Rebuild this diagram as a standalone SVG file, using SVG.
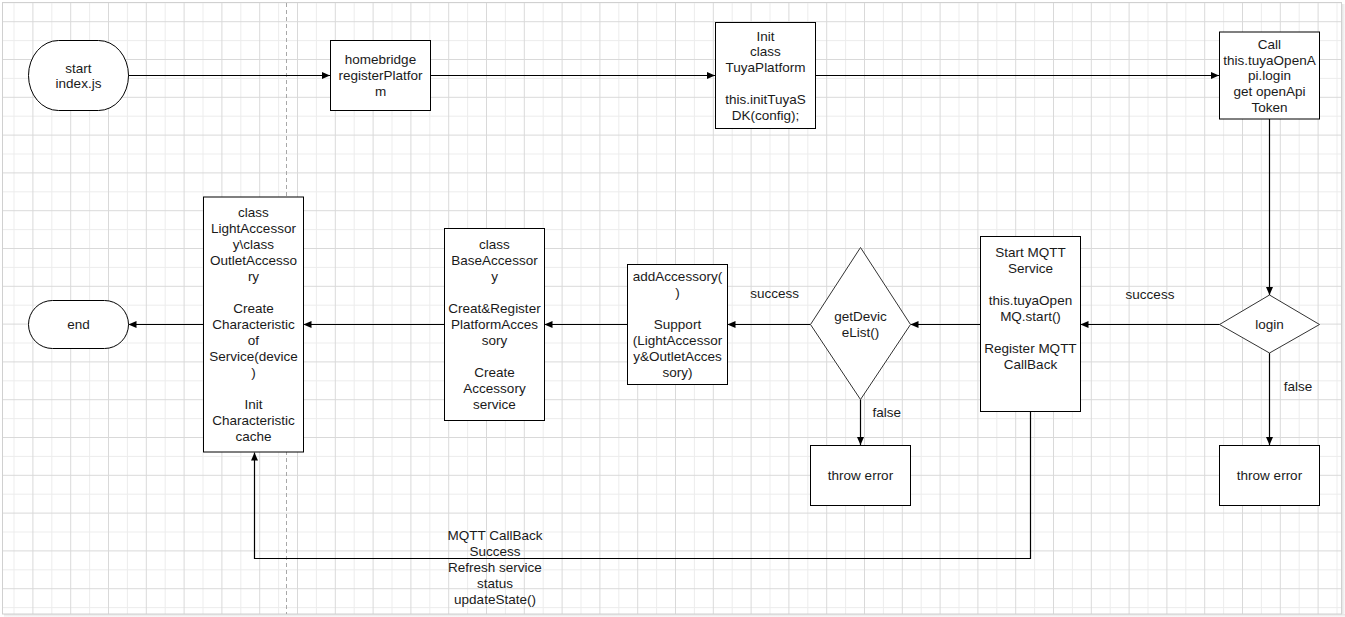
<svg xmlns="http://www.w3.org/2000/svg" width="1345" height="617" viewBox="0 0 1345 617">
<style>
text{font-family:"Liberation Sans",Arial,sans-serif;font-size:13.5px;fill:#1a1a1a;text-anchor:middle}
.box{fill:#fff;stroke:#000;stroke-width:1}
.dia{fill:#fff;stroke:#333;stroke-width:1}
.conn{fill:none;stroke:#000;stroke-width:1.2}
.arr{marker-end:url(#ah)}
</style>
<defs>
<marker id="ah" markerUnits="userSpaceOnUse" markerWidth="8" markerHeight="8" refX="8" refY="3.5" orient="auto">
<path d="M0,0 L8,3.5 L0,7 z" fill="#000"/>
</marker>
<pattern id="grid" patternUnits="userSpaceOnUse" x="4.55" y="12.25" width="37.8" height="37.8">
<path d="M9.45,0 V37.8 M0,28.35 H37.8" stroke="#ececec" stroke-width="1" fill="none"/>
<path d="M28.35,0 V37.8 M0,9.45 H37.8" stroke="#d9d9d9" stroke-width="1" fill="none"/>
</pattern>
<linearGradient id="shr" x1="0" x2="1" y1="0" y2="0"><stop offset="0" stop-color="#e4e4e4"/><stop offset="1" stop-color="#fafafa"/></linearGradient>
<linearGradient id="shb" x1="0" x2="0" y1="0" y2="1"><stop offset="0" stop-color="#e4e4e4"/><stop offset="1" stop-color="#fafafa"/></linearGradient>
</defs>
<rect x="0" y="0" width="1345" height="617" fill="#fff"/>
<rect x="1342" y="4" width="3" height="613" fill="url(#shr)"/>
<rect x="4" y="614" width="1341" height="3" fill="url(#shb)"/>
<rect x="2.5" y="2.5" width="1339" height="611.5" fill="url(#grid)" stroke="#d0d0d0" stroke-width="1"/>
<line x1="286.5" y1="3" x2="286.5" y2="614" stroke="#a8a8a8" stroke-width="1" stroke-dasharray="4 3"/>

<g id="connectors">
<path class="conn arr" d="M128 75.5 H330"/>
<path class="conn arr" d="M430 75.5 H715"/>
<path class="conn arr" d="M815 75.5 H1219"/>
<path class="conn arr" d="M1269.5 119 V295"/>
<path class="conn arr" d="M1220 324.5 H1080.5"/>
<path class="conn arr" d="M980 324.5 H910.5"/>
<path class="conn arr" d="M810.5 324.5 H727.5"/>
<path class="conn arr" d="M627 324.5 H544.5"/>
<path class="conn arr" d="M444 324.5 H303.5"/>
<path class="conn arr" d="M203 324.5 H128.5"/>
<path class="conn arr" d="M860.5 399.5 V445"/>
<path class="conn arr" d="M1269.5 353 V445"/>
<path class="conn arr" d="M1030.5 411.5 V558.5 H254.5 V452.5"/>
<text x="774.7" y="298">success</text>
<text x="1150" y="298.7">success</text>
<text x="886.7" y="417">false</text>
<text x="1298" y="391.4">false</text>
<text x="495" y="540.4">MQTT CallBack</text>
<text x="495" y="556.4">Success</text>
<text x="495" y="572.4">Refresh service</text>
<text x="495" y="588.4">status</text>
<text x="495" y="604.4">updateState()</text>
</g>

<g id="start">
<rect class="box" x="28.5" y="40.5" width="100" height="70" rx="30" ry="35"/>
<text x="78.5" y="72.5">start</text>
<text x="78.5" y="88">index.js</text>
</g>

<g id="homebridge">
<rect class="box" x="330.5" y="40.5" width="100" height="70"/>
<text x="380.5" y="64.4">homebridge</text>
<text x="380.5" y="80.4">registerPlatfor</text>
<text x="380.5" y="96.4">m</text>
</g>

<g id="init">
<rect class="box" x="715.5" y="22.5" width="100" height="106"/>
<text x="765.5" y="40.7">Init</text>
<text x="765.5" y="56.4">class</text>
<text x="765.5" y="72.4">TuyaPlatform</text>
<text x="765.5" y="104.4">this.initTuyaS</text>
<text x="765.5" y="120.4">DK(config);</text>
</g>

<g id="call">
<rect class="box" x="1219.5" y="32" width="100" height="87"/>
<text x="1269.5" y="48.7">Call</text>
<text x="1269.5" y="64.7">this.tuyaOpenA</text>
<text x="1269.5" y="80.4">pi.login</text>
<text x="1269.5" y="96.4">get openApi</text>
<text x="1269.5" y="112.4">Token</text>
</g>

<g id="login">
<polygon class="dia" points="1269.5,295 1319.5,324.5 1269.5,353 1219.5,324.5"/>
<text x="1269.5" y="328.9">login</text>
</g>

<g id="throw2">
<rect class="box" x="1219.5" y="445.5" width="100" height="60"/>
<text x="1269.5" y="480">throw error</text>
</g>

<g id="mqtt">
<rect class="box" x="980.5" y="236.5" width="100" height="175"/>
<text x="1030.5" y="257">Start MQTT</text>
<text x="1030.5" y="273">Service</text>
<text x="1030.5" y="305">this.tuyaOpen</text>
<text x="1030.5" y="321">MQ.start()</text>
<text x="1030.5" y="353">Register MQTT</text>
<text x="1030.5" y="369">CallBack</text>
</g>

<g id="getDeviceList">
<polygon class="dia" points="860.5,247.5 910.5,324.5 860.5,399.5 810.5,324.5"/>
<text x="860.5" y="321.4">getDevic</text>
<text x="860.5" y="337.4">eList()</text>
</g>

<g id="throw1">
<rect class="box" x="810.5" y="445.5" width="100" height="60"/>
<text x="860.5" y="480">throw error</text>
</g>

<g id="addAccessory">
<rect class="box" x="627.5" y="264.5" width="100" height="120"/>
<text x="677.5" y="281.4">addAccessory(</text>
<text x="677.5" y="297.4">)</text>
<text x="677.5" y="329.4">Support</text>
<text x="677.5" y="345.4">(LightAccessor</text>
<text x="677.5" y="361.4">y&amp;OutletAcces</text>
<text x="677.5" y="377.4">sory)</text>
</g>

<g id="baseAccessory">
<rect class="box" x="444.5" y="228.5" width="100" height="192"/>
<text x="494.5" y="249">class</text>
<text x="494.5" y="265">BaseAccessor</text>
<text x="494.5" y="281">y</text>
<text x="494.5" y="313">Creat&amp;Register</text>
<text x="494.5" y="329">PlatformAcces</text>
<text x="494.5" y="345">sory</text>
<text x="494.5" y="377">Create</text>
<text x="494.5" y="393">Accessory</text>
<text x="494.5" y="409">service</text>
</g>

<g id="lightAccessory">
<rect class="box" x="203.5" y="197" width="100" height="255"/>
<text x="253.5" y="217.4">class</text>
<text x="253.5" y="233.4">LightAccessor</text>
<text x="253.5" y="249.4">y\class</text>
<text x="253.5" y="265.4">OutletAccesso</text>
<text x="253.5" y="281.4">ry</text>
<text x="253.5" y="313.4">Create</text>
<text x="253.5" y="329.4">Characteristic</text>
<text x="253.5" y="345.4">of</text>
<text x="253.5" y="361.4">Service(device</text>
<text x="253.5" y="377.4">)</text>
<text x="253.5" y="409.4">Init</text>
<text x="253.5" y="425.4">Characteristic</text>
<text x="253.5" y="441.4">cache</text>
</g>

<g id="end">
<rect class="box" x="28.5" y="300.5" width="100" height="48" rx="24" ry="24"/>
<text x="78.5" y="329">end</text>
</g>
</svg>
